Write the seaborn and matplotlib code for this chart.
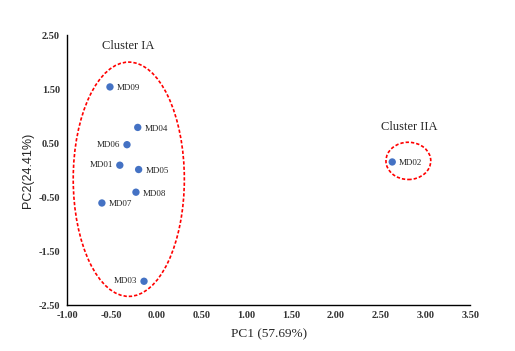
import matplotlib
matplotlib.use('Agg')
import matplotlib.pyplot as plt
from matplotlib.patches import Ellipse
import seaborn as sns
import pandas as pd

# sample names and PCA scores
samples = ['MD01', 'MD02', 'MD03', 'MD04', 'MD05', 'MD06', 'MD07', 'MD08', 'MD09']
pc1 = [-0.41, 2.63, -0.14, -0.21, -0.20, -0.33, -0.61, -0.23, -0.52]
pc2 = [0.09, 0.15, -2.06, 0.79, 0.01, 0.47, -0.61, -0.41, 1.54]
label_side = ['left', 'right', 'left', 'right', 'right', 'left', 'right', 'right', 'right']

xticks = [-1.0, -0.5, 0.0, 0.5, 1.0, 1.5, 2.0, 2.5, 3.0, 3.5]
yticks = [-2.5, -1.5, -0.5, 0.5, 1.5, 2.5]

df = pd.DataFrame({'sample': samples, 'pc1': pc1, 'pc2': pc2, 'side': label_side})

sns.set_style('white')
plt.rcParams['font.family'] = ['Liberation Serif', 'DejaVu Serif']

fig = plt.figure(figsize=(5.15, 3.51), dpi=100)
ax = fig.add_axes([0.130, 0.131, 0.783, 0.769])

sns.scatterplot(data=df, x='pc1', y='pc2', color='#4472C4', s=28,
                edgecolor='none', ax=ax, zorder=3)

for _, r in df.iterrows():
    if r['side'] == 'right':
        ax.annotate(r['sample'], (r['pc1'], r['pc2']), xytext=(5, -1),
                    textcoords='offset points', ha='left', va='center', fontsize=6.5)
    else:
        ax.annotate(r['sample'], (r['pc1'], r['pc2']), xytext=(-5, 0),
                    textcoords='offset points', ha='right', va='center', fontsize=6.5)

# cluster outlines
ax.add_patch(Ellipse((-0.31, -0.17), 1.24, 4.34, fill=False, ec='red', ls=(0, (2, 1.2)), lw=1.2))
ax.add_patch(Ellipse((2.81, 0.17), 0.50, 0.69, fill=False, ec='red', ls=(0, (2, 1.2)), lw=1.2))
ax.text(-0.32, 2.30, 'Cluster IA', ha='center', va='center', fontsize=9)
ax.text(2.82, 0.80, 'Cluster IIA', ha='center', va='center', fontsize=9)

ax.set_xlim(-1.0, 3.5)
ax.set_ylim(-2.5, 2.5)
ax.set_xticks(xticks)
ax.set_yticks(yticks)
ax.set_xticklabels([f'{v:.2f}' for v in xticks], fontsize=7.5, fontweight='bold', color='#333333')
ax.set_yticklabels([f'{v:.2f}' for v in yticks], fontsize=7.5, fontweight='bold', color='#333333')
ax.tick_params(axis='y', direction='out', length=3, width=0.8, color='black', pad=2)
ax.tick_params(axis='x', direction='in', length=3, width=0.8, color='black', pad=4)
for s in ['top', 'right']:
    ax.spines[s].set_visible(False)
for s in ['left', 'bottom']:
    ax.spines[s].set_color('black')
    ax.spines[s].set_linewidth(1.0)

ax.set_xlabel('PC1 (57.69%)', fontsize=9.5, labelpad=6)
ax.set_ylabel('PC2(24.41%)', fontsize=9, labelpad=3, family=['Liberation Sans', 'DejaVu Sans'])

fig.savefig('out.png', dpi=100)
